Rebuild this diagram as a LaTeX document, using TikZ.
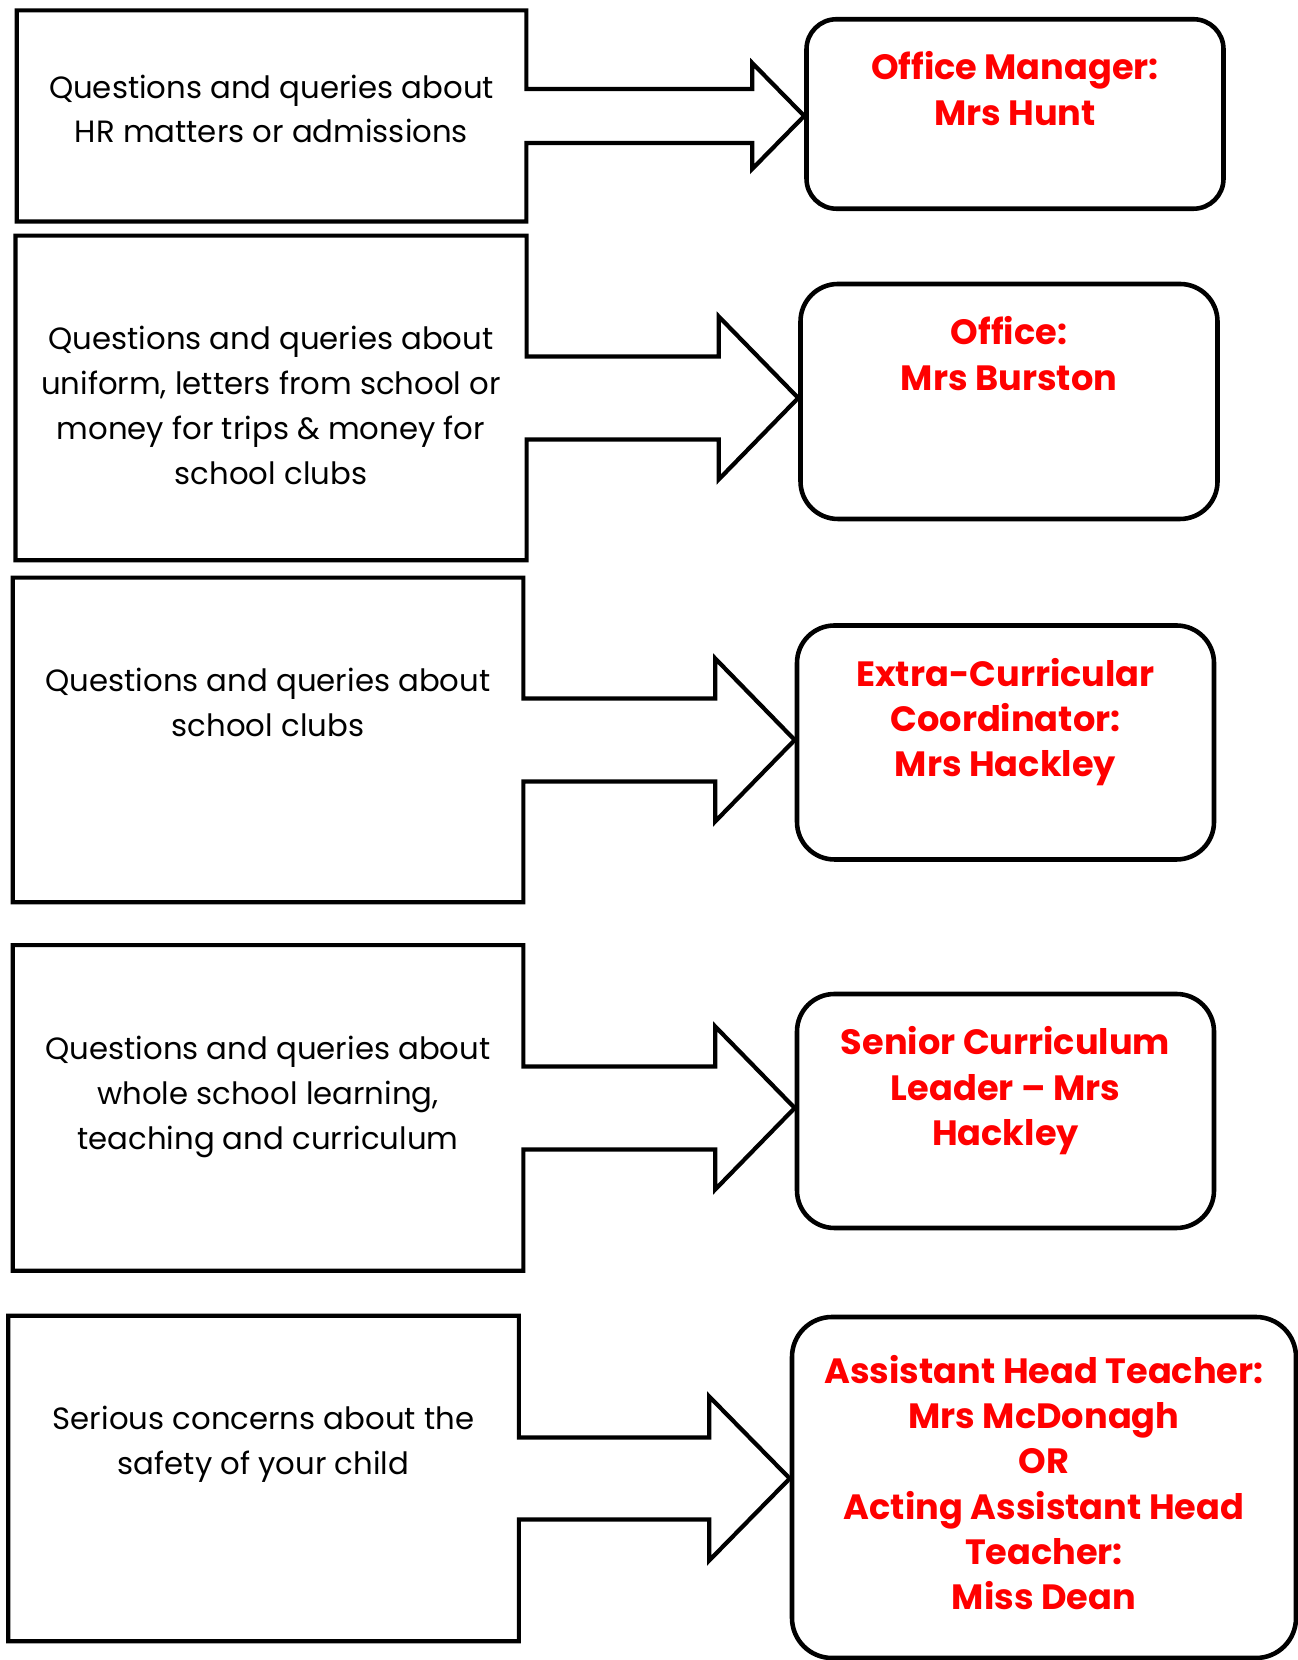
\documentclass[tikz,border=0pt]{standalone}
\usepackage{fontspec}
\setmainfont{Poppins}
\usepackage{tikz}
\usetikzlibrary{calc}
\usetikzlibrary{positioning}

\tikzset{
    askbox/.style={rectangle, inner sep=0pt, minimum width=10.2cm, minimum height=6.48cm},
    asktext/.style={anchor=north, align=center, inner sep=0pt, font=\fontsize{17.5}{25.5}\selectfont},
    whobox/.style={draw, line width=2.6pt, rounded corners=0.75cm, inner sep=0pt, minimum width=8.34cm, minimum height=4.68cm},
    whotext/.style={anchor=north, align=center, inner sep=0pt, text=red, font=\bfseries\fontsize{20}{25.8}\selectfont},
    outline/.style={line width=2.4pt, line join=miter}
}

\begin{document}
\begin{tikzpicture}
\useasboundingbox (0,0) rectangle (25.96,33.2);

% question boxes
\node[askbox, minimum width=10.18cm, minimum height=4.21cm] (q1) at (5.43,30.88) {};
\node[askbox, minimum width=10.21cm] (q2) at (5.42,25.24) {};
\node[askbox] (q3) at (5.36,18.40) {};
\node[askbox, minimum height=6.50cm] (q4) at (5.36,11.04) {};
\node[askbox, minimum height=6.50cm] (q5) at (5.27,3.63) {};

% who to ask
\node[whobox, minimum height=3.79cm, rounded corners=0.6cm] (a1) at (20.30,30.92) {};
\node[whobox, minimum height=4.70cm] (a2) at (20.18,25.17) {};
\node[whobox] (a3) at (20.11,18.35) {};
\node[whobox] (a4) at (20.11,10.98) {};
\node[whobox, minimum width=10.08cm, minimum height=6.82cm, rounded corners=0.8cm] (a5) at (20.88,3.45) {};

\coordinate (tip1) at (a1.west |- q1.east);
\coordinate (tip2) at (a2.west |- q2.east);
\coordinate (tip3) at (a3.west |- q3.east);
\coordinate (tip4) at (a4.west |- q4.east);
\coordinate (tip5) at (a5.west |- q5.east);

% box and arrow as one outline
\draw[outline] (q1.north east) -- ($(q1.east)+(0,0.54)$) -- ($(tip1)+(-1.04,0.54)$) -- ($(tip1)+(-1.04,1.06)$) -- (tip1)
    -- ($(tip1)+(-1.04,-1.06)$) -- ($(tip1)+(-1.04,-0.54)$) -- ($(q1.east)+(0,-0.54)$)
    -- (q1.south east) -- (q1.south west) -- (q1.north west) -- cycle;
\draw[outline] (q2.north east) -- ($(q2.east)+(0,0.83)$) -- ($(tip2)+(-1.59,0.83)$) -- ($(tip2)+(-1.59,1.63)$) -- (tip2)
    -- ($(tip2)+(-1.59,-1.63)$) -- ($(tip2)+(-1.59,-0.83)$) -- ($(q2.east)+(0,-0.83)$)
    -- (q2.south east) -- (q2.south west) -- (q2.north west) -- cycle;
\draw[outline] (q3.north east) -- ($(q3.east)+(0,0.83)$) -- ($(tip3)+(-1.59,0.83)$) -- ($(tip3)+(-1.59,1.63)$) -- (tip3)
    -- ($(tip3)+(-1.59,-1.63)$) -- ($(tip3)+(-1.59,-0.83)$) -- ($(q3.east)+(0,-0.83)$)
    -- (q3.south east) -- (q3.south west) -- (q3.north west) -- cycle;
\draw[outline] (q4.north east) -- ($(q4.east)+(0,0.83)$) -- ($(tip4)+(-1.59,0.83)$) -- ($(tip4)+(-1.59,1.63)$) -- (tip4)
    -- ($(tip4)+(-1.59,-1.63)$) -- ($(tip4)+(-1.59,-0.83)$) -- ($(q4.east)+(0,-0.83)$)
    -- (q4.south east) -- (q4.south west) -- (q4.north west) -- cycle;
\draw[outline] (q5.north east) -- ($(q5.east)+(0,0.82)$) -- ($(tip5)+(-1.61,0.82)$) -- ($(tip5)+(-1.61,1.64)$) -- (tip5)
    -- ($(tip5)+(-1.61,-1.64)$) -- ($(tip5)+(-1.61,-0.82)$) -- ($(q5.east)+(0,-0.82)$)
    -- (q5.south east) -- (q5.south west) -- (q5.north west) -- cycle;

% texts
\node[asktext, below=1.28cm of q1.north] (t1) {Questions and queries about\\HR matters or admissions};
\node[asktext, below=1.81cm of q2.north] (t2) {Questions and queries about\\uniform, letters from school or\\money for trips \& money for\\school clubs};
\node[asktext, below=1.81cm of q3.north] (t3) {Questions and queries about\\school clubs};
\node[asktext, below=1.81cm of q4.north] (t4) {Questions and queries about\\whole school learning,\\teaching and curriculum};
\node[asktext, below=1.81cm of q5.north] (t5) {Serious concerns about the\\safety of your child};

\node[whotext, below=0.69cm of a1.north] (w1) {Office Manager:\\Mrs Hunt};
\node[whotext, below=0.69cm of a2.north] (w2) {Office:\\Mrs Burston};
\node[whotext, below=0.69cm of a3.north] (w3) {Extra-Curricular\\Coordinator:\\Mrs Hackley};
\node[whotext, below=0.69cm of a4.north] (w4) {Senior Curriculum\\Leader – Mrs\\Hackley};
\node[whotext, below=0.80cm of a5.north] (w5) {Assistant Head Teacher:\\Mrs McDonagh\\OR\\Acting Assistant Head\\Teacher:\\Miss Dean};
\end{tikzpicture}
\end{document}
